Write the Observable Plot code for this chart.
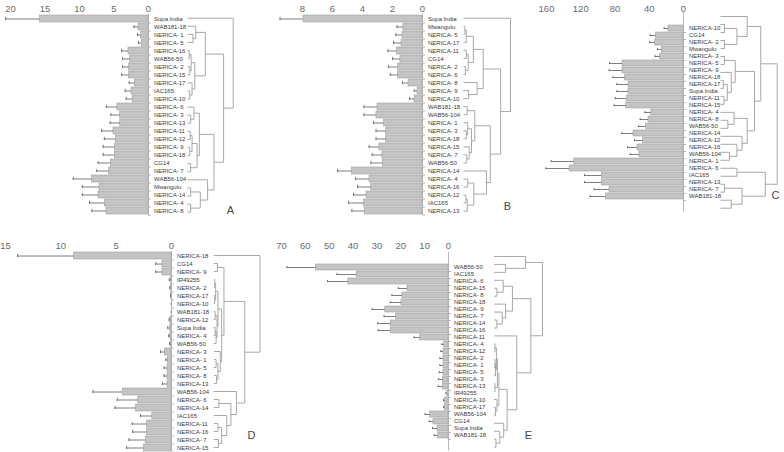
<!DOCTYPE html>
<html><head><meta charset="utf-8">
<script src="https://cdn.jsdelivr.net/npm/d3@7"></script>
<script src="https://cdn.jsdelivr.net/npm/@observablehq/plot@0.6"></script>
<style>
html,body{margin:0;padding:0;background:#fff;}
#chart{position:relative;width:784px;height:452px;overflow:hidden;background:#fff;}
#chart svg{position:absolute;left:0;top:0;}
</style></head><body><div id="chart"></div>
<script>
// ---------- Panel A ----------
const namesA = ["Supa India","WAB181-18","NERICA- 1","NERICA- 5","NERICA-16","WAB56-50","NERICA- 2","NERICA-15","NERICA-17","IAC165","NERICA-10","NERICA- 6","NERICA- 3","NERICA-13","NERICA-11","NERICA-12","NERICA- 9","NERICA-18","CG14","NERICA- 7","WAB56-104","Mwangulu","NERICA-14","NERICA- 4","NERICA- 8"];
const valuesA = [15.7,1.45,1.06,0.92,2.9,2.66,2.8,2.8,1.98,2.46,2.3,4.5,4.1,4.1,5.07,4.73,4.88,4.88,5.46,5.7,8.2,7.1,7.25,6.33,6.1];
const errorsA = [5.0,0.65,0.54,0.53,1.0,1.11,0.97,1.1,0.82,0.92,0.94,1.6,1.36,1.46,1.73,1.67,1.69,1.69,1.84,1.8,2.7,2.5,2.35,2.22,2.1];
const ticksA = [20,15,10,5,0];
const treeA = ["Supa India",
  [[["WAB181-18",["NERICA- 1","NERICA- 5",0.12],0.18],
    [[["NERICA-16","WAB56-50",0.04],["NERICA- 2","NERICA-15",0.05],0.08],["NERICA-17",["IAC165","NERICA-10",0.05],0.10],0.16],0.39],
   [[["NERICA- 6",["NERICA- 3","NERICA-13",0.07],0.14],[[["NERICA-11","NERICA-12",0.06],["NERICA- 9","NERICA-18",0.05],0.10],["CG14","NERICA- 7",0.07],0.21],0.26],
    ["WAB56-104",[["Mwangulu","NERICA-14",0.07],["NERICA- 4","NERICA- 8",0.07],0.28],0.44],0.58],0.79],1.0];

// ---------- Panel B ----------
const namesB = ["Supa India","Mwangulu","NERICA- 5","NERICA-17","NERICA-11","CG14","NERICA- 2","NERICA- 6","NERICA- 8","NERICA- 9","NERICA-10","WAB181-18","WAB56-104","NERICA- 1","NERICA- 3","NERICA-18","NERICA-15","NERICA- 7","WAB56-50","NERICA-14","NERICA- 4","NERICA-16","NERICA-12","IAC165","NERICA-13"];
const valuesB = [7.93,1.27,1.33,1.4,1.71,1.47,1.62,1.62,0.93,0.33,0.53,3.0,3.07,2.56,2.42,2.42,2.87,2.67,2.64,4.7,3.53,3.42,3.73,3.91,3.84];
const errorsB = [1.57,0.43,0.45,0.53,0.59,0.53,0.65,0.53,0.4,0.22,0.34,0.9,0.83,0.71,0.68,0.68,0.69,0.69,0.8,0.97,0.94,0.91,0.87,1.02,0.87];
const ticksB = [8,6,4,2,0];
const treeB = ["Supa India",
  [[[[["Mwangulu","NERICA- 5",0.03],"NERICA-17",0.06],[["NERICA-11","CG14",0.06],["NERICA- 2","NERICA- 6",0.04],0.10],0.21],
    ["NERICA- 8",["NERICA- 9","NERICA-10",0.11],0.29],0.42],
   [[["WAB181-18","WAB56-104",0.08],[["NERICA- 1",["NERICA- 3","NERICA-18",0.06],0.09],["NERICA-15",["NERICA- 7","WAB56-50",0.07],0.12],0.17],0.24],
    ["NERICA-14",[["NERICA- 4","NERICA-16",0.09],[["NERICA-12","IAC165",0.05],"NERICA-13",0.08],0.22],0.49],0.57],0.79],1.0];

// ---------- Panel C ----------
const namesC = ["NERICA-10","CG14","NERICA- 2","Mwangulu","NERICA- 3","NERICA- 5","NERICA- 9","NERICA-18","NERICA-17","Supa India","NERICA-11","NERICA-15","NERICA- 4","NERICA- 8","WAB56-50","NERICA-14","NERICA-12","NERICA-16","WAB56-104","NERICA- 1","NERICA- 6","IAC165","NERICA-13","NERICA- 7","WAB181-18"];
const valuesC = [17.5,31.9,33.1,25.3,27.2,71.2,71.2,68.1,64.2,64.2,66.1,66.9,37.7,40.9,43.6,58.4,47.5,53.7,51.4,127.6,133.0,95.3,95.3,86.4,90.3];
const errorsC = [5.1,7.0,6.6,5.1,5.9,15.2,15.6,14.4,13.6,13.6,13.7,14.0,7.4,9.7,8.9,13.6,9.7,11.7,10.9,26.9,27.7,20.3,20.3,17.9,18.7];
const ticksC = [160,120,80,40,0];
const treeC = [
  [["NERICA-10",[["CG14","NERICA- 2",0.07],["Mwangulu","NERICA- 3",0.07],0.29],0.47],
   [[["NERICA- 5","NERICA- 9",0.07],["NERICA-18",[["NERICA-17","Supa India",0.05],["NERICA-11","NERICA-15",0.06],0.12],0.19],0.26],
    [["NERICA- 4",["NERICA- 8","WAB56-50",0.13],0.24],["NERICA-14",["NERICA-12",["NERICA-16","WAB56-104",0.16],0.29],0.38],0.47],0.60],0.71],
  [["NERICA- 1","NERICA- 6",0.29],[["IAC165","NERICA-13",0.07],["NERICA- 7","WAB181-18",0.19],0.38],0.79],1.0];

// ---------- Panel D ----------
const namesD = ["NERICA-18","CG14","NERICA- 9","IR49255","NERICA- 2","NERICA-17","NERICA-10","WAB181-18","NERICA-12","Supa India","NERICA- 4","WAB56-50","NERICA- 3","NERICA- 1","NERICA- 5","NERICA- 8","NERICA-13","WAB56-104","NERICA- 6","NERICA-14","IAC165","NERICA-11","NERICA-16","NERICA- 7","NERICA-15"];
const valuesD = [8.8,0.82,0.82,0.05,0.05,0.03,0,0,0.1,0.12,0.1,0.06,0.58,0.3,0.36,0.36,0.36,4.4,3.0,3.2,1.73,2.2,2.2,2.33,2.5];
const errorsD = [5.1,0.6,0.6,0.15,0.1,0.05,0.02,0.02,0.12,0.22,0.15,0.12,0.42,0.2,0.31,0.31,0.46,2.7,1.9,1.9,1.07,1.35,1.3,1.52,1.56];
const ticksD = [15,10,5,0];
const treeD = ["NERICA-18",
  [[["CG14","NERICA- 9",0.08],
    [[[["IR49255","NERICA- 2",0.02],["NERICA-17","NERICA-10",0.02],0.04],[["WAB181-18","NERICA-12",0.03],[["Supa India","NERICA- 4",0.03],"WAB56-50",0.05],0.07],0.09],
     ["NERICA- 3",[["NERICA- 1","NERICA- 5",0.05],["NERICA- 8","NERICA-13",0.06],0.09],0.14],0.17],0.22],
   ["WAB56-104",[["NERICA- 6","NERICA-14",0.11],["IAC165",[["NERICA-11","NERICA-16",0.09],["NERICA- 7","NERICA-15",0.10],0.17],0.28],0.37],0.49],0.67],1.0];

// ---------- Panel E ----------
const namesE = ["WAB56-50","IAC165","NERICA- 6","NERICA-15","NERICA- 8","NERICA-18","NERICA- 9","NERICA- 7","NERICA-14","NERICA-16","NERICA-11","NERICA- 4","NERICA-12","NERICA- 2","NERICA- 1","NERICA- 5","NERICA- 3","NERICA-13","IR49255","NERICA-10","NERICA-17","WAB56-104","CG14","Supa India","WAB181-18"];
const valuesE = [55.6,38.5,42.0,17.2,19.3,19.7,26.5,22.0,24.2,24.2,11.9,1.8,2.1,2.1,2.1,2.1,2.4,2.4,0.5,1.4,1.5,7.7,6.3,4.6,4.3];
const errorsE = [12.1,8.3,8.7,3.8,4.4,4.7,5.5,5.0,5.5,5.3,2.5,1.0,1.1,1.5,1.5,1.8,1.8,1.9,0.6,0.7,0.6,2.1,1.8,2.1,1.7];
const ticksE = [70,60,50,40,30,20,10,0];
const treeE = [
  ["WAB56-50",["IAC165","NERICA- 6",0.24],0.65],
  [[["NERICA-15",["NERICA- 8","NERICA-18",0.06],0.19],["NERICA- 9",["NERICA- 7",["NERICA-14","NERICA-16",0.06],0.17],0.24],0.38],
   ["NERICA-11",
     [[[[["NERICA- 4","NERICA-12",0.02],[["NERICA- 2","NERICA- 1",0.02],"NERICA- 5",0.03],0.05],["NERICA- 3","NERICA-13",0.02],0.07],["IR49255",["NERICA-10","NERICA-17",0.03],0.06],0.10],
      ["WAB56-104",["CG14",["Supa India","WAB181-18",0.04],0.12],0.20],0.27],0.47],0.76],1.0];

// ---------- layout (pixel positions of each panel) ----------
const panels = [
  {letter:"A", names:namesA, values:valuesA, errors:errorsA, ticks:ticksA, tree:treeA, x:[10,148],  y:[13.7,215.7], tickLabelY:5,     treeX:[187,232.7], letterXY:[230,213]},
  {letter:"B", names:namesB, values:valuesB, errors:errorsB, ticks:ticksB, tree:treeB, x:[302,422], y:[13.7,214.7], tickLabelY:5,     treeX:[463,510],   letterXY:[507,209]},
  {letter:"C", names:namesC, values:valuesC, errors:errorsC, ticks:ticksC, tree:treeC, x:[546,683], y:[12,211.7],   tickLabelY:5,     treeX:[720,776.7], letterXY:[775,198]},
  {letter:"D", names:namesD, values:valuesD, errors:errorsD, ticks:ticksD, tree:treeD, x:[5,171],   y:[251,451],    tickLabelY:241.7, treeX:[213.3,259.5], letterXY:[251,438]},
  {letter:"E", names:namesE, values:valuesE, errors:errorsE, ticks:ticksE, tree:treeE, x:[281,448], y:[252,450.6],  tickLabelY:241.7, treeX:[493.5,542], letterXY:[528,438]}
];

const W = 784, H = 452;
const FONT = "'Liberation Sans',Arial,sans-serif";
const svgStyle = {background:"transparent", overflow:"visible", fontFamily: FONT};
const chart = document.getElementById("chart");

// a short horizontal tick symbol for the category axis
const axisTick = {draw(ctx){ ctx.moveTo(0,0); ctx.lineTo(2.5,0); }};

function treeSegments(tree, names){
  const segs = [];
  function walk(node){
    if (typeof node === "string") return {y: names.indexOf(node), h: 0};
    const [a, b, h] = node;
    const A = walk(a), B = walk(b);
    segs.push({x1:A.h, x2:h, y1:A.y, y2:A.y});
    segs.push({x1:B.h, x2:h, y1:B.y, y2:B.y});
    segs.push({x1:h, x2:h, y1:A.y, y2:B.y});
    return {y:(A.y+B.y)/2, h};
  }
  walk(tree);
  return segs;
}

for (const p of panels){
  const n = p.names.length;
  const rows = p.names.map((name,i)=>({name, v:p.values[i], e:p.errors[i]}));
  const step = (p.y[1]-p.y[0])/n;
  const tmax = d3.max(p.ticks);

  const bars = Plot.plot({
    width: W, height: H,
    marginLeft: p.x[0], marginRight: W - p.x[1],
    marginTop: p.y[0], marginBottom: H - p.y[1],
    style: svgStyle,
    x: {domain:[tmax,0], axis:null},
    y: {domain:p.names, paddingInner:0.15, paddingOuter:0.075, axis:null},
    marks: [
      Plot.barX(rows, {x:"v", y:"name", fill:"#c4c4c4", stroke:"#a2a2a2", strokeWidth:0.6}),
      Plot.ruleY(rows, {y:"name", x1:"v", x2:d=>d.v+d.e, stroke:"#5e5e5e", strokeWidth:0.8}),
      Plot.tickX(rows, {x:d=>d.v+d.e, y:"name", stroke:"#5e5e5e", strokeWidth:0.8, insetTop:1.9, insetBottom:1.9}),
      Plot.ruleX([0], {stroke:"#a6a6a6", strokeWidth:0.8}),
      Plot.dot(p.names, {x:()=>0, y:d=>d, symbol:axisTick, r:2, stroke:"#a6a6a6", strokeWidth:0.8, dy:step/2}),
      Plot.text(p.ticks, {x:d=>d, frameAnchor:"top", dy:p.tickLabelY - p.y[0], text:d=>String(d), fontSize:9.5, fill:"#6a6a6a"}),
      Plot.text(rows, {x:()=>0, y:"name", text:"name", textAnchor:"start", dx:5.5, fontSize:6, fill:"#3a3a3a"})
    ]
  });
  chart.appendChild(bars);

  const c0 = p.y[0] + step/2, c1 = p.y[1] - step/2;
  const segs = treeSegments(p.tree, p.names);
  const dendro = Plot.plot({
    width: W, height: H,
    marginLeft: p.treeX[0], marginRight: W - p.treeX[1],
    marginTop: c0, marginBottom: H - c1,
    style: svgStyle,
    x: {domain:[0,1], axis:null},
    y: {domain:[0,n-1], reverse:true, axis:null},
    marks: [
      Plot.link(segs, {x1:"x1", y1:"y1", x2:"x2", y2:"y2", stroke:"#9e9e9e", strokeWidth:0.9}),
      Plot.text([p.letter], {frameAnchor:"bottom-right", text:d=>d,
        dx: p.letterXY[0] - p.treeX[1], dy: p.letterXY[1] - c1,
        textAnchor:"middle", fontSize:11, fill:"#444"})
    ]
  });
  chart.appendChild(dendro);
}
</script>
</body></html>
